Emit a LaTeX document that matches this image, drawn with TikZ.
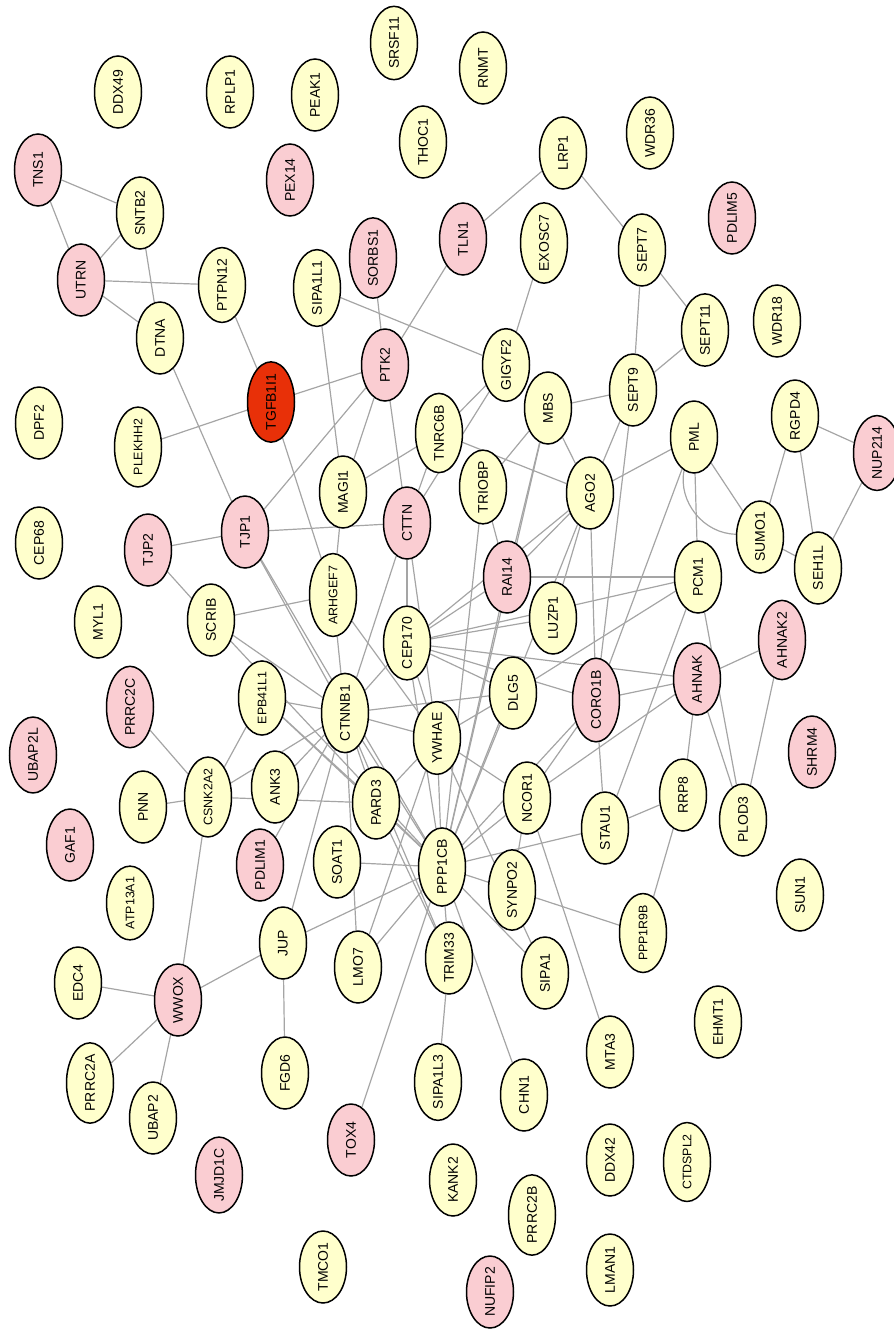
\documentclass[tikz,border=0pt]{standalone}
\usepackage{fontspec}
\newfontfamily\genefont{Liberation Sans}
\usetikzlibrary{shapes.geometric}
\definecolor{geneyellow}{RGB}{255,255,204}
\definecolor{genepink}{RGB}{250,205,210}
\definecolor{genered}{RGB}{232,48,8}
\definecolor{edgegray}{RGB}{165,165,165}
\pgfdeclarelayer{edges}
\pgfsetlayers{edges,main}
\tikzset{
  gene/.style={ellipse, draw=black, line width=0.75pt, fill=geneyellow, minimum width=36pt, minimum height=23.5pt, inner sep=0pt, rotate=90, font=\genefont\fontsize{7}{8}\selectfont},
  hit/.style={gene, fill=genepink},
  seed/.style={gene, fill=genered},
  longname/.style={font=\genefont\fontsize{6.2}{7}\selectfont},
  link/.style={draw=edgegray, line width=0.6pt}
}

\begin{document}
\begin{tikzpicture}[x=0.5pt,y=0.5pt,yscale=-1,xscale=1]
\useasboundingbox (0,0) rectangle (894,1329);

% Nodes, top rows
\node [gene] (DDX49) at (118,92) {DDX49};
\node [gene] (RPLP1) at (230,92) {RPLP1};
\node [gene] (PEAK1) at (315,95) {PEAK1};
\node [gene] (SRSF11) at (394,43) {SRSF11};
\node [gene] (RNMT) at (483,68) {RNMT};
\node [gene] (THOC1) at (423,142) {THOC1};
\node [gene] (WDR36) at (650,133) {WDR36};
\node [gene] (LRP1) at (563,153) {LRP1};
\node [hit] (TNS1) at (38,170) {TNS1};
\node [gene] (SNTB2) at (140,213) {SNTB2};
\node [hit] (PEX14) at (290,180) {PEX14};
\node [hit] (PDLIM5) at (732,218) {PDLIM5};
\node [hit] (UTRN) at (81,280) {UTRN};
\node [gene] (PTPN12) at (222,285) {PTPN12};
\node [gene] (SIPA1L1) at (317,288) {SIPA1L1};
\node [hit] (SORBS1) at (373,258) {SORBS1};
\node [hit] (TLN1) at (463,239) {TLN1};
\node [gene] (EXOSC7) at (544,243) {EXOSC7};
\node [gene] (SEPT7) at (642,250) {SEPT7};
\node [gene] (SEPT11) at (705,330) {SEPT11};
\node [gene] (WDR18) at (777,321) {WDR18};
\node [gene] (DTNA) at (160,338) {DTNA};
\node [hit] (PTK2) at (385,365) {PTK2};
\node [gene] (GIGYF2) at (506,365) {GIGYF2};
\node [gene] (DPF2) at (39,423) {DPF2};
\node [seed] (TGFB1I1) at (271,402) {TGFB1I1};
\node [gene, longname] (PLEKHH2) at (138,447) {PLEKHH2};
\node [gene] (MBS) at (548,408) {MBS};
\node [gene] (SEPT9) at (633,390) {SEPT9};
\node [gene] (PML) at (694,437) {PML};
\node [gene] (RGPD4) at (795,416) {RGPD4};
\node [hit] (NUP214) at (877,453) {NUP214};
% Nodes, middle
\node [gene] (TNRC6B) at (439,433) {TNRC6B};
\node [gene] (MAGI1) at (343,492) {MAGI1};
\node [gene] (TRIOBP) at (483,487) {TRIOBP};
\node [gene] (AGO2) at (590,493) {AGO2};
\node [gene] (CEP68) at (39,543) {CEP68};
\node [hit] (TJP2) at (148,550) {TJP2};
\node [hit] (TJP1) at (245,532) {TJP1};
\node [hit] (CTTN) at (407,523) {CTTN};
\node [gene] (SUMO1) at (760,537) {SUMO1};
\node [gene] (SEH1L) at (818,568) {SEH1L};
\node [gene] (MYL1) at (98,622) {MYL1};
\node [gene] (SCRIB) at (211,620) {SCRIB};
\node [gene, longname] (ARHGEF7) at (333,595) {ARHGEF7};
\node [hit] (RAI14) at (507,577) {RAI14};
\node [gene] (LUZP1) at (553,618) {LUZP1};
\node [gene] (PCM1) at (698,577) {PCM1};
\node [gene] (CEP170) at (407,643) {CEP170};
\node [hit] (AHNAK2) at (782,640) {AHNAK2};
\node [hit] (AHNAK) at (697,679) {AHNAK};
\node [gene, longname] (EPB41L1) at (262,698) {EPB41L1};
\node [gene] (DLG5) at (513,693) {DLG5};
\node [hit] (CORO1B) at (596,700) {CORO1B};
\node [hit] (PRRC2C) at (130,707) {PRRC2C};
\node [hit] (UBAP2L) at (33,755) {UBAP2L};
\node [gene] (CTNNB1) at (345,713) {CTNNB1};
\node [gene] (YWHAE) at (437,738) {YWHAE};
\node [hit] (SHRM4) at (812,752) {SHRM4};
\node [gene, longname] (CSNK2A2) at (208,797) {CSNK2A2};
\node [gene] (ANK3) at (275,787) {ANK3};
\node [gene] (PNN) at (143,807) {PNN};
\node [gene] (PARD3) at (376,803) {PARD3};
\node [gene] (NCOR1) at (527,798) {NCOR1};
\node [gene] (STAU1) at (605,828) {STAU1};
\node [gene] (RRP8) at (683,795) {RRP8};
\node [gene] (PLOD3) at (743,820) {PLOD3};
% Nodes, lower part
\node [hit] (GAF1) at (70,845) {GAF1};
\node [hit] (PDLIM1) at (260,865) {PDLIM1};
\node [gene] (SOAT1) at (337,862) {SOAT1};
\node [gene] (PPP1CB) at (442,867) {PPP1CB};
\node [gene] (SYNPO2) at (512,890) {SYNPO2};
\node [gene, longname] (ATP13A1) at (130,903) {ATP13A1};
\node [gene] (JUP) at (283,943) {JUP};
\node [gene] (SUN1) at (800,895) {SUN1};
\node [gene] (TRIM33) at (449,958) {TRIM33};
\node [gene] (LMO7) at (358,967) {LMO7};
\node [gene] (SIPA1) at (545,973) {SIPA1};
\node [gene, longname] (PPP1R9B) at (643,933) {PPP1R9B};
\node [gene] (EDC4) at (78,983) {EDC4};
\node [hit] (WWOX) at (178,1000) {WWOX};
\node [gene] (FGD6) at (285,1073) {FGD6};
\node [gene] (EHMT1) at (718,1022) {EHMT1};
\node [gene] (PRRC2A) at (90,1083) {PRRC2A};
\node [gene] (UBAP2) at (153,1118) {UBAP2};
\node [gene] (SIPA1L3) at (438,1082) {SIPA1L3};
\node [gene] (CHN1) at (524,1095) {CHN1};
\node [gene] (MTA3) at (610,1052) {MTA3};
\node [hit] (JMJD1C) at (219,1175) {JMJD1C};
\node [hit] (TOX4) at (351,1140) {TOX4};
\node [gene] (KANK2) at (453,1180) {KANK2};
\node [gene] (DDX42) at (610,1160) {DDX42};
\node [gene, longname] (CTDSPL2) at (687,1162) {CTDSPL2};
\node [gene] (PRRC2B) at (532,1215) {PRRC2B};
\node [gene] (TMCO1) at (323,1267) {TMCO1};
\node [hit] (NUFIP2) at (490,1292) {NUFIP2};
\node [gene] (LMAN1) at (610,1270) {LMAN1};

% Interactions
\begin{pgfonlayer}{edges}
\foreach \a/\b in {TNS1/SNTB2, TNS1/UTRN, UTRN/SNTB2, UTRN/PTPN12, UTRN/DTNA, SNTB2/DTNA,
  PTPN12/TGFB1I1, DTNA/TJP1, PLEKHH2/TGFB1I1, TGFB1I1/PTK2, TGFB1I1/ARHGEF7,
  LRP1/TLN1, LRP1/SEPT7, TLN1/PTK2, SORBS1/PTK2, SIPA1L1/GIGYF2, SIPA1L1/MAGI1,
  EXOSC7/GIGYF2, SEPT7/SEPT11, SEPT7/SEPT9, SEPT9/SEPT11, MBS/SEPT9, SEPT9/AGO2, SEPT9/CORO1B,
  PML/AGO2, PML/SUMO1, PML/PCM1, PML/CORO1B, RGPD4/NUP214, RGPD4/SUMO1, RGPD4/SEH1L,
  NUP214/SEH1L, SUMO1/SEH1L, PCM1/STAU1, PCM1/PLOD3, PCM1/CEP170, PCM1/DLG5, PCM1/RAI14,
  TJP1/TJP2, TJP2/SCRIB, TJP1/PTK2, TJP1/CTTN, TJP1/CTNNB1, TJP1/PPP1CB,
  SCRIB/ARHGEF7, SCRIB/CTNNB1, SCRIB/PPP1CB,
  PTK2/MAGI1, PTK2/CTTN, MAGI1/TNRC6B, MAGI1/ARHGEF7, ARHGEF7/CTNNB1, ARHGEF7/YWHAE,
  TNRC6B/GIGYF2, CTTN/GIGYF2, CTTN/TNRC6B, TNRC6B/AGO2, MBS/TRIOBP, MBS/RAI14, MBS/AGO2,
  TRIOBP/RAI14, TRIOBP/PPP1CB, RAI14/AGO2, LUZP1/AGO2, CTTN/CEP170, CTTN/YWHAE, CTTN/CTNNB1,
  RAI14/CEP170, RAI14/PPP1CB, CEP170/LUZP1, CEP170/AHNAK, CEP170/CORO1B, CEP170/DLG5,
  CEP170/AGO2, CEP170/CTNNB1, CEP170/YWHAE, CEP170/PPP1CB,
  CTNNB1/DLG5, CTNNB1/YWHAE, CTNNB1/PARD3, CTNNB1/PPP1CB, CTNNB1/LMO7, CTNNB1/EPB41L1,
  CTNNB1/CSNK2A2, CTNNB1/ANK3, CTNNB1/JUP, CTNNB1/PDLIM1, CTNNB1/TRIM33,
  YWHAE/PPP1CB, YWHAE/NCOR1, YWHAE/DLG5, YWHAE/PARD3, YWHAE/LMO7, YWHAE/SIPA1,
  PPP1CB/NCOR1, PPP1CB/STAU1, PPP1CB/SYNPO2, PPP1CB/SIPA1, PPP1CB/TRIM33, PPP1CB/CHN1,
  PPP1CB/JUP, PPP1CB/LMO7, PPP1CB/TOX4, PPP1CB/PARD3, PPP1CB/CORO1B, PPP1CB/AGO2,
  PPP1CB/MBS, PPP1CB/DLG5, PPP1CB/EPB41L1, PPP1CB/SOAT1,
  TRIM33/SIPA1L3, NCOR1/MTA3, NCOR1/CORO1B, NCOR1/AHNAK, SYNPO2/PPP1R9B, SYNPO2/NCOR1,
  TRIM33/PARD3, CSNK2A2/PRRC2C, CSNK2A2/PNN, CSNK2A2/EPB41L1, CSNK2A2/WWOX, CSNK2A2/PARD3,
  EPB41L1/PARD3, JUP/WWOX, EDC4/WWOX, WWOX/PRRC2A, WWOX/UBAP2, FGD6/JUP,
  CORO1B/AHNAK, CORO1B/STAU1, AGO2/CORO1B, AHNAK/AHNAK2, AHNAK/PLOD3, AHNAK2/PLOD3,
  AHNAK/RRP8, RRP8/PPP1R9B, RRP8/STAU1}
  \draw [link] (\a) -- (\b);
\draw [link] (PML) to [bend left=50] (SUMO1);
\end{pgfonlayer}

\end{tikzpicture}
\end{document}
